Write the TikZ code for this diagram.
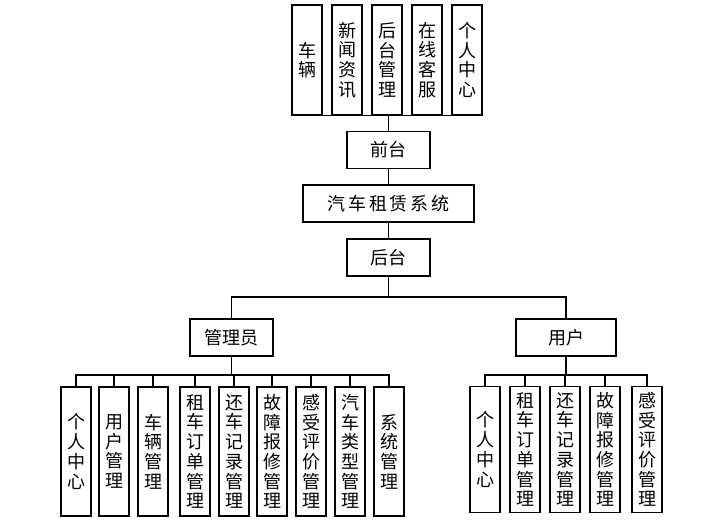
\documentclass[tikz,border=0pt]{standalone}
\usepackage{fontspec}
\newfontfamily\cjk{Noto Sans CJK SC}
\newfontfamily\cjkwide[LetterSpace=16]{Noto Sans CJK SC}
\usepackage{tikz}
\usetikzlibrary{positioning,calc}
\tikzset{pxgrid/.style={x=1pt, y=-1pt}}
\tikzset{dbox/.style={draw, line width=1.6pt, inner sep=0pt, align=center, font=\cjk\fontsize{18}{19.7}\selectfont}}
\tikzset{hbox/.style={dbox, minimum width=83pt, minimum height=37pt}}
\tikzset{vbox/.style={dbox, minimum width=30pt}}
\tikzset{link/.style={draw, line width=1.1pt}}

\begin{document}
\begin{tikzpicture}[pxgrid]
    \useasboundingbox (0,0) rectangle (726,526);
    % front end modules
    \foreach \n/\x/\t in {t1/307/{车\\辆}, t2/347/{新\\闻\\资\\讯}, t3/387/{后\\台\\管\\理},
                          t4/427/{在\\线\\客\\服}, t5/467/{个\\人\\中\\心}}
        \node[vbox, minimum height=110pt] (\n) at (\x,60) {\t};
    \draw[link] (t1.south west) -- (t5.south east);
    \node[hbox] (front) at (388.5,150) {前台};
    \node[hbox, minimum width=171pt, font=\cjkwide\fontsize{18}{19.7}\selectfont] (sys) at (388.5,203.5) {汽车租赁系统};
    \node[hbox] (back) at (388.5,257.5) {后台};
    \draw[link] (front.north) -- (front.north |- t3.south);
    \draw[link] (front) -- (sys);
    \draw[link] (sys) -- (back);
    % back end roles
    \node[hbox] (admin) at (231.5,337.5) {管理员};
    \node[hbox, minimum width=100pt] (user) at (566,337.5) {用户};
    \coordinate (split) at (388.5,297);
    \draw[link] (back) -- (split);
    \draw[link] (split) -| (admin);
    \draw[link] (split) -| (user);
    % admin modules
    \coordinate (abus) at (231.5,375);
    \draw[link] (admin) -- (abus);
    \foreach \n/\x/\t in {a1/76/{个\\人\\中\\心}, a2/114/{用\\户\\管\\理}, a3/153/{车\\辆\\管\\理},
                          a4/195/{租\\车\\订\\单\\管\\理}, a5/234/{还\\车\\记\\录\\管\\理},
                          a6/272/{故\\障\\报\\修\\管\\理}, a7/311/{感\\受\\评\\价\\管\\理},
                          a8/350/{汽\\车\\类\\型\\管\\理}, a9/389/{系\\统\\管\\理}}{
        \node[vbox, minimum height=129pt] (\n) at (\x,451.5) {\t};
        \draw[link] (abus) -| (\n);
    }
    % user modules
    \coordinate (ubus) at (566,375);
    \draw[link] (user) -- (ubus);
    \foreach \n/\x/\t in {u1/485/{个\\人\\中\\心}, u2/525/{租\\车\\订\\单\\管\\理},
                          u3/565/{还\\车\\记\\录\\管\\理}, u4/605/{故\\障\\报\\修\\管\\理},
                          u5/647/{感\\受\\评\\价\\管\\理}}{
        \node[vbox, minimum height=126pt] (\n) at (\x,449.5) {\t};
        \draw[link] (ubus) -| (\n);
    }
\end{tikzpicture}
\end{document}
